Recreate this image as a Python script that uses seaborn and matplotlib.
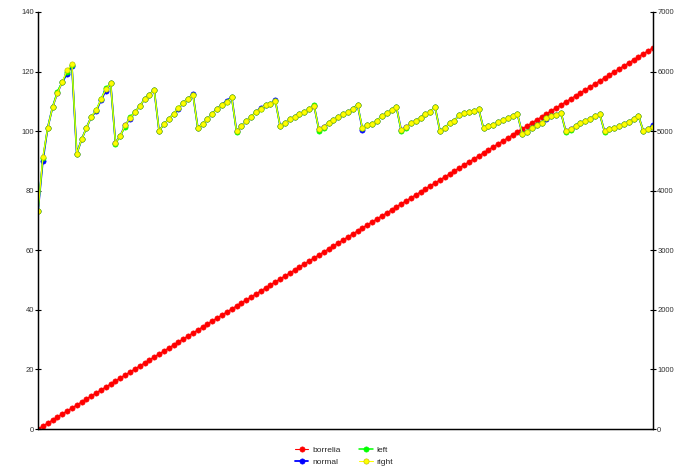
import pandas as pd
import matplotlib
matplotlib.use("Agg")
import matplotlib.pyplot as plt
import seaborn as sns

# step index (one tick per step on the x axis)
steps = list(range(128))

borrelia = [0, 50, 101, 151, 202, 252, 302, 353, 403, 454, 504, 554, 605, 655, 705, 756,
            806, 857, 907, 957, 1008, 1058, 1109, 1159, 1209, 1260, 1310, 1361, 1411, 1461, 1512, 1562,
            1613, 1663, 1713, 1764, 1814, 1864, 1915, 1965, 2016, 2066, 2116, 2167, 2217, 2268, 2318, 2368,
            2419, 2469, 2520, 2570, 2620, 2671, 2721, 2771, 2822, 2872, 2923, 2973, 3023, 3074, 3124, 3175,
            3225, 3275, 3326, 3376, 3427, 3477, 3527, 3578, 3628, 3679, 3729, 3779, 3830, 3880, 3931, 3981,
            4031, 4082, 4132, 4183, 4233, 4283, 4334, 4384, 4434, 4485, 4535, 4586, 4636, 4686, 4737, 4787,
            4838, 4888, 4938, 4989, 5039, 5090, 5140, 5190, 5241, 5291, 5342, 5392, 5442, 5493, 5543, 5594,
            5644, 5694, 5745, 5795, 5845, 5896, 5946, 5997, 6047, 6097, 6148, 6198, 6249, 6299, 6350, 6400]

normal = [73.1, 90.0, 101.1, 108.0, 112.8, 116.5, 119.2, 121.8,
          92.4, 97.2, 101.1, 104.8, 106.6, 110.4, 113.6, 116.0,
          96.1, 98.5, 102.0, 104.2, 106.3, 108.4, 110.7, 112.2, 113.8,
          100.1, 102.3, 104.0, 105.9, 107.6, 109.5, 110.9, 112.4,
          101.1, 102.5, 104.0, 105.9, 107.5, 108.9, 110.2, 111.5,
          100.0, 101.7, 103.3, 104.8, 106.4, 107.8, 108.7, 109.1, 110.4,
          101.7, 102.6, 104.0, 104.8, 105.7, 106.3, 107.3, 108.6,
          100.6, 101.5, 102.8, 103.7, 104.6, 105.6, 106.3, 107.6, 108.8,
          100.5, 102.0, 102.3, 103.5, 105.0, 106.0, 107.1, 108.2,
          100.4, 101.3, 102.6, 103.5, 104.5, 105.6, 106.5, 108.0,
          100.1, 101.1, 102.6, 103.5, 105.5, 106.0, 106.3, 106.6, 107.4,
          100.9, 101.7, 102.0, 103.0, 103.6, 104.3, 105.2, 105.7,
          99.2, 99.8, 100.9, 102.0, 102.7, 104.0, 105.1, 105.5, 106.2,
          99.9, 100.8, 101.7, 102.8, 103.4, 104.2, 105.1, 105.7,
          99.9, 100.6, 101.1, 101.7, 102.5, 103.2, 104.0, 105.1,
          100.1, 100.8, 102.0]

left = [73.1, 91.0, 101.1, 108.0, 113.3, 116.5, 120.0, 122.2,
        92.4, 97.2, 101.1, 104.8, 107.0, 110.7, 114.4, 116.0,
        95.8, 98.5, 101.5, 104.8, 106.3, 108.4, 110.7, 112.2, 113.8,
        100.1, 102.3, 104.0, 105.9, 107.9, 109.5, 110.9, 112.2,
        101.1, 102.5, 104.0, 105.9, 107.3, 108.9, 109.8, 111.3,
        99.6, 101.7, 103.3, 104.8, 106.4, 107.4, 108.7, 109.1, 110.2,
        101.7, 102.6, 104.0, 104.8, 105.7, 106.3, 107.3, 108.9,
        100.2, 101.2, 102.8, 103.7, 104.6, 105.6, 106.3, 107.4, 108.8,
        100.9, 102.0, 102.3, 103.5, 105.0, 106.0, 107.1, 108.2,
        100.0, 101.0, 102.6, 103.5, 104.5, 105.6, 106.5, 108.0,
        100.1, 101.1, 102.6, 103.5, 105.5, 106.0, 106.3, 106.6, 107.4,
        100.9, 101.7, 102.0, 103.0, 103.6, 104.3, 105.2, 105.7,
        99.2, 99.8, 100.9, 102.0, 102.6, 104.4, 105.1, 105.5, 106.2,
        99.6, 100.5, 101.7, 102.8, 103.4, 104.2, 105.1, 105.7,
        99.7, 100.6, 101.1, 101.7, 102.5, 103.2, 104.0, 105.1,
        100.1, 100.8, 101.5]

right = [73.1, 91.2, 101.1, 108.0, 112.7, 116.5, 120.4, 122.5,
         92.4, 97.2, 101.1, 104.8, 107.0, 110.7, 114.0, 116.0,
         96.1, 98.5, 102.0, 104.4, 106.3, 108.4, 110.7, 112.2, 113.8,
         100.1, 102.3, 104.0, 105.9, 107.9, 109.5, 110.9, 112.2,
         101.1, 102.5, 104.0, 105.9, 107.3, 108.9, 109.8, 111.3,
         100.0, 101.7, 103.3, 104.8, 106.4, 107.6, 108.7, 109.1, 110.2,
         101.7, 102.6, 104.0, 104.8, 105.7, 106.3, 107.3, 108.6,
         100.6, 101.5, 102.8, 103.7, 104.6, 105.6, 106.3, 107.4, 108.8,
         100.9, 102.0, 102.3, 103.5, 105.0, 106.0, 107.1, 108.2,
         100.4, 101.3, 102.6, 103.5, 104.5, 105.6, 106.5, 108.0,
         100.1, 101.1, 102.6, 103.5, 105.5, 106.0, 106.3, 106.6, 107.4,
         100.9, 101.7, 102.0, 103.0, 103.6, 104.3, 105.2, 105.7,
         99.2, 99.8, 100.9, 102.0, 102.6, 104.4, 105.1, 105.5, 106.2,
         99.9, 100.8, 101.7, 102.8, 103.4, 104.2, 105.1, 105.7,
         99.9, 100.6, 101.1, 101.7, 102.5, 103.2, 104.0, 105.1,
         100.1, 100.8, 101.5]

sns.set_style("white")
plt.rcParams["font.family"] = ["Liberation Sans", "DejaVu Sans"]
plt.rcParams["font.size"] = 5.5

fig = plt.figure(figsize=(6.75, 4.7), dpi=100)
ax = fig.add_axes([38 / 675, 1 - 429 / 470, 615 / 675, 417 / 470])
ax2 = ax.twinx()

mk = dict(marker="o", markersize=3.8, markeredgewidth=0.4)

# borrelia on the host axes (drawn underneath), scale shown on the right
sns.lineplot(x=steps, y=borrelia, ax=ax, color="#ff0000", markeredgecolor="#ff0000",
             linewidth=0.8, label="borrelia", legend=False, **mk)

for name, vals, col, edge, lw in [("normal", normal, "#0000ff", "#0000ff", 1.3),
                                  ("left", left, "#00ff00", "#00ff00", 1.1),
                                  ("right", right, "#ffff00", "#b4b400", 0.8)]:
    sns.lineplot(x=steps, y=vals, ax=ax2, color=col, markeredgecolor=edge,
                 linewidth=lw, label=name, legend=False, **mk)

ax.set_xlim(0, 127)
ax.set_ylim(0, 7000)
ax.set_yticks(range(0, 7001, 1000))
ax2.set_ylim(0, 140)
ax2.set_yticks(range(0, 141, 20))

ax.yaxis.tick_right()
ax2.yaxis.tick_left()

ax.set_xticks(steps)
ax.set_xticklabels([])

for a in (ax, ax2):
    a.spines["top"].set_visible(False)
    for s in ("left", "right", "bottom"):
        a.spines[s].set_color("black")
        a.spines[s].set_linewidth(0.9)
    a.tick_params(axis="both", direction="inout", length=5, width=0.8,
                  color="black", labelsize=5.5, labelcolor="#333333", pad=0.5)
    a.set_xlabel("")
    a.set_ylabel("")
    a.grid(False)

ax.patch.set_visible(True)
ax2.patch.set_visible(False)

h1, l1 = ax.get_legend_handles_labels()
h2, l2 = ax2.get_legend_handles_labels()
fig.legend(h1 + h2, l1 + l2, ncol=2, loc="center", bbox_to_anchor=(0.51, 0.03),
           frameon=False, fontsize=6, handlelength=1.6, handletextpad=0.5,
           columnspacing=2.2, labelspacing=0.45, borderpad=0)

fig.savefig("out.png", dpi=100)
